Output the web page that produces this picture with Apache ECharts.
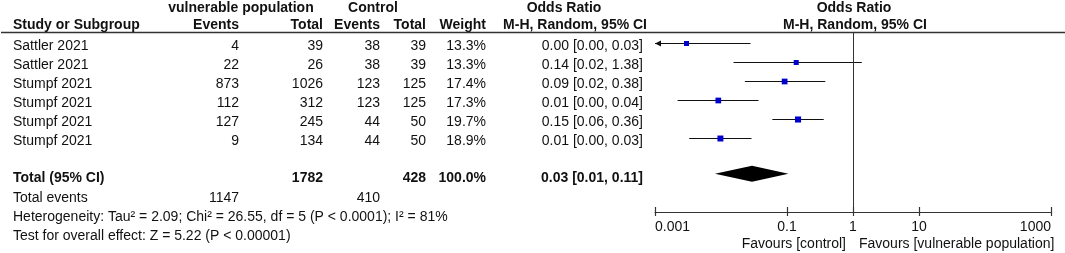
<!DOCTYPE html>
<html>
<head>
<meta charset="utf-8">
<script src="https://cdn.jsdelivr.net/npm/echarts@6/dist/echarts.min.js"></script>
<style>
html,body{margin:0;padding:0;background:#fff}
#chart{width:1065px;height:253px}
</style>
</head>
<body>
<div id="chart"></div>
<script>
// study rows
var studies = ['Sattler 2021', 'Sattler 2021', 'Stumpf 2021', 'Stumpf 2021', 'Stumpf 2021', 'Stumpf 2021'];
var vulnEvents = [4, 22, 873, 112, 127, 9];
var vulnTotal = [39, 26, 1026, 312, 245, 134];
var ctrlEvents = [38, 38, 123, 123, 44, 44];
var ctrlTotal = [39, 39, 125, 125, 50, 50];
var weights = [13.3, 13.3, 17.4, 17.3, 19.7, 18.9];
var orLabels = ['0.00 [0.00, 0.03]', '0.14 [0.02, 1.38]', '0.09 [0.02, 0.38]', '0.01 [0.00, 0.04]', '0.15 [0.06, 0.36]', '0.01 [0.00, 0.03]'];
// odds ratios
var orEst = [0.003, 0.138, 0.092, 0.0091, 0.147, 0.0098];
var orLow = [0.0002, 0.0155, 0.023, 0.0022, 0.06, 0.0033];
var orHigh = [0.028, 1.36, 0.38, 0.037, 0.36, 0.029];
// pooled
var pooledCI = [0.0081, 0.0295, 0.105];
var totalRow = ['Total (95% CI)', '', '1782', '', '428', '100.0%', '0.03 [0.01, 0.11]'];
var eventsRow = ['Total events', '1147', '', '410'];
var heterogeneity = 'Heterogeneity: Tau² = 2.09; Chi² = 26.55, df = 5 (P < 0.0001); I² = 81%';
var overallTest = 'Test for overall effect: Z = 5.22 (P < 0.00001)';
var xTicks = [0.001, 0.1, 1, 10, 1000];

var FONT = '"Liberation Sans", Arial, sans-serif';
var FS = 14;
var ROW0 = 43, ROWH = 19;
var AXMIN = 0.001;

function txt(x, y, s, align, bold) {
    return {
        type: 'text', x: x, y: y, silent: true,
        style: {
            text: s, textAlign: align || 'left', textVerticalAlign: 'middle',
            fontFamily: FONT, fontSize: FS, fontWeight: bold ? 'bold' : 'normal', fill: '#111'
        }
    };
}

var cols = [13, 239, 323, 380, 426, 486, 643];
var graphics = [];
// headers
graphics.push(txt(241, 8, 'vulnerable population', 'center', true));
graphics.push(txt(373, 8, 'Control', 'center', true));
graphics.push(txt(564, 8, 'Odds Ratio', 'center', true));
graphics.push(txt(854, 8, 'Odds Ratio', 'center', true));
graphics.push(txt(cols[0], 25, 'Study or Subgroup', 'left', true));
graphics.push(txt(cols[1], 25, 'Events', 'right', true));
graphics.push(txt(cols[2], 25, 'Total', 'right', true));
graphics.push(txt(cols[3], 25, 'Events', 'right', true));
graphics.push(txt(cols[4], 25, 'Total', 'right', true));
graphics.push(txt(cols[5], 25, 'Weight', 'right', true));
graphics.push(txt(647, 25, 'M-H, Random, 95% CI', 'right', true));
graphics.push(txt(855, 25, 'M-H, Random, 95% CI', 'center', true));
graphics.push({
    type: 'line', silent: true,
    shape: {x1: 1, y1: 32.5, x2: 1065, y2: 32.5},
    style: {stroke: '#333', lineWidth: 1.5}
});

// study rows
for (var i = 0; i < studies.length; i++) {
    var y = ROW0 + ROWH * i + 3;
    graphics.push(txt(cols[0], y, studies[i], 'left'));
    graphics.push(txt(cols[1], y, String(vulnEvents[i]), 'right'));
    graphics.push(txt(cols[2], y, String(vulnTotal[i]), 'right'));
    graphics.push(txt(cols[3], y, String(ctrlEvents[i]), 'right'));
    graphics.push(txt(cols[4], y, String(ctrlTotal[i]), 'right'));
    graphics.push(txt(cols[5], y, weights[i].toFixed(1) + '%', 'right'));
    graphics.push(txt(cols[6], y, orLabels[i], 'right'));
}
// totals
graphics.push(txt(cols[0], 178, totalRow[0], 'left', true));
for (var c = 1; c < totalRow.length; c++) {
    if (totalRow[c]) graphics.push(txt(cols[c], 178, totalRow[c], 'right', true));
}
graphics.push(txt(cols[0], 198, eventsRow[0], 'left'));
graphics.push(txt(cols[1], 198, eventsRow[1], 'right'));
graphics.push(txt(cols[3], 198, eventsRow[3], 'right'));
graphics.push(txt(cols[0], 217, heterogeneity, 'left'));
graphics.push(txt(cols[0], 236, overallTest, 'left'));
graphics.push(txt(846, 244, 'Favours [control]', 'right'));
graphics.push(txt(859, 244, 'Favours [vulnerable population]', 'left'));

var studyData = [];
for (var k = 0; k < studies.length; k++) {
    studyData.push([k, orEst[k], orLow[k], orHigh[k], weights[k]]);
}

function renderStudy(params, api) {
    var row = api.value(0);
    var low = api.value(2);
    var p1 = api.coord([Math.max(low, AXMIN), row]);
    var p2 = api.coord([api.value(3), row]);
    var pt = api.coord([api.value(1), row]);
    var s = Math.sqrt(api.value(4)) * 1.37;
    var yl = Math.round(p1[1]) + 0.5;
    var kids = [
        {type: 'line', shape: {x1: p1[0], y1: yl, x2: p2[0], y2: yl}, style: {stroke: '#111', lineWidth: 1}},
        {type: 'rect', shape: {x: pt[0] - s / 2, y: yl - s / 2, width: s, height: s}, style: {fill: '#0000cc'}}
    ];
    if (low < AXMIN) {
        kids.push({
            type: 'polygon',
            shape: {points: [[p1[0], yl], [p1[0] + 6, yl - 3], [p1[0] + 6, yl + 3]]},
            style: {fill: '#111'}
        });
    }
    return {type: 'group', children: kids};
}

function renderDiamond(params, api) {
    var row = api.value(0);
    var a = api.coord([api.value(1), row]);
    var m = api.coord([api.value(2), row]);
    var b = api.coord([api.value(3), row]);
    return {
        type: 'polygon',
        shape: {points: [[a[0], a[1]], [m[0], m[1] - 8], [b[0], b[1]], [m[0], m[1] + 8]]},
        style: {fill: '#000'}
    };
}

var chart = echarts.init(document.getElementById('chart'));
var baseX = {
    type: 'log', logBase: 10, min: 0.001, max: 1000,
    position: 'bottom',
    splitLine: {show: false}
};
var option = {
    animation: false,
    graphic: graphics,
    grid: {left: 655, right: 14, top: 32, bottom: 41},
    xAxis: [
        Object.assign({}, baseX, {
            axisLine: {show: true, onZero: false, lineStyle: {color: '#333', width: 1.2}},
            axisTick: {show: true, inside: false, length: 4, customValues: xTicks, lineStyle: {color: '#333', width: 1.2}},
            axisLabel: {
                show: true, customValues: xTicks, margin: 8,
                alignMinLabel: 'left', alignMaxLabel: 'right',
                fontFamily: FONT, fontSize: FS, color: '#111',
                formatter: function (v) { return String(v); }
            }
        }),
        Object.assign({}, baseX, {
            axisLine: {show: false, onZero: false},
            axisTick: {show: true, inside: true, length: 5, customValues: xTicks, lineStyle: {color: '#333', width: 1.2}},
            axisLabel: {show: false}
        })
    ],
    yAxis: {
        type: 'value', inverse: true,
        min: (32 - ROW0) / ROWH, max: (212 - ROW0) / ROWH,
        show: false
    },
    series: [
        {
            type: 'custom',
            renderItem: renderStudy,
            data: studyData,
            encode: {x: [1, 2, 3], y: 0},
            markLine: {
                silent: true, symbol: 'none', label: {show: false},
                lineStyle: {color: '#333', width: 1, type: 'solid'},
                data: [{xAxis: 1}]
            }
        },
        {
            type: 'custom',
            renderItem: renderDiamond,
            data: [[6.88, pooledCI[0], pooledCI[1], pooledCI[2]]],
            encode: {x: [1, 2, 3], y: 0}
        }
    ]
};
chart.setOption(option);
</script>
</body>
</html>
